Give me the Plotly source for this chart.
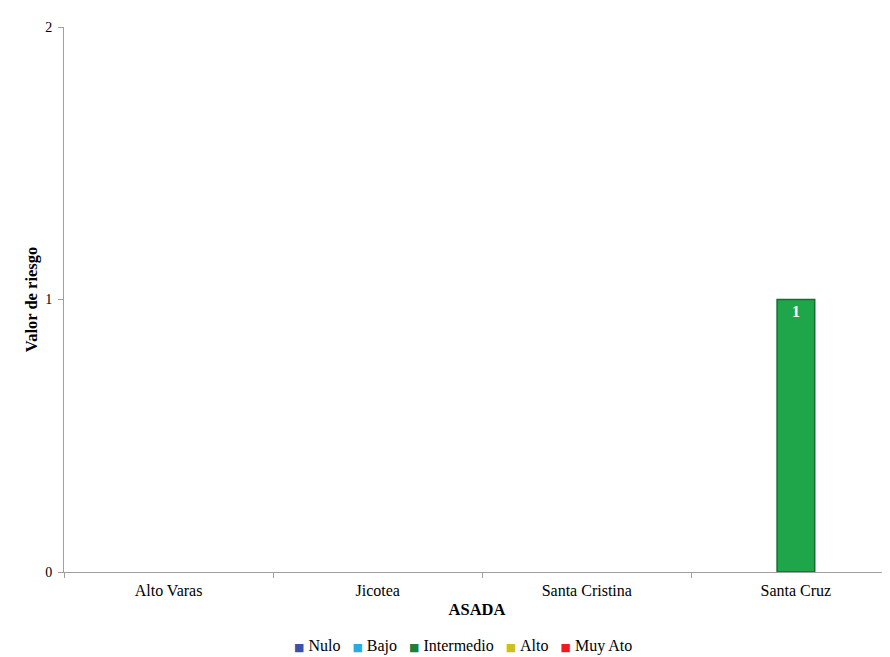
import plotly.graph_objects as go

categories = ["Alto Varas", "Jicotea", "Santa Cristina", "Santa Cruz"]
series_names = ["Nulo", "Bajo", "Intermedio", "Alto", "Muy Ato"]
nulo = [0, 0, 0, 0]
bajo = [0, 0, 0, 0]
intermedio = [0, 0, 0, 1]
alto = [0, 0, 0, 0]
muy_alto = [0, 0, 0, 0]
y_ticks = [0, 1, 2]

values = [nulo, bajo, intermedio, alto, muy_alto]
colors = ["#3a53a4", "#29abe2", "#1fa64a", "#d4cf1e", "#ed1c24"]
legend_colors = ["#3a53a4", "#29abe2", "#1e7f3a", "#c9c21c", "#ed1c24"]
lines = ["#2a3d7a", "#1d7ea8", "#166b32", "#8a8612", "#a81118"]

fig = go.Figure()
for name, vals, c, lc in zip(series_names, values, colors, lines):
    fig.add_trace(go.Bar(
        name=name, x=categories, y=[v if v else None for v in vals],
        marker=dict(color=c, line=dict(color=lc, width=1.5)),
        text=[str(v) if v else "" for v in vals],
        textposition="inside", insidetextanchor="end",
        textfont=dict(family="Liberation Serif", size=16, color="white"),
        texttemplate="<b>%{text}</b>",
        showlegend=False,
    ))

legend_text = "<span style='font-family:Liberation Serif'>&nbsp;&nbsp;&nbsp;</span>".join(
    f"<span style='color:{c};font-family:DejaVu Sans;font-size:11px'>■</span>"
    f"<span style='font-family:Liberation Serif'>&nbsp;{n}</span>"
    for n, c in zip(series_names, legend_colors)
)
fig.add_annotation(xref="paper", yref="paper", x=0.483, y=-0.135, xanchor="center", yanchor="middle",
                   text=legend_text, showarrow=False,
                   font=dict(family="Liberation Serif", size=16, color="black"))

fig.update_layout(
    width=882, height=649,
    barmode="group", bargap=0.1, bargroupgap=0,
    paper_bgcolor="white", plot_bgcolor="white",
    margin=dict(l=56, r=0, t=19, b=85, autoexpand=False),
    font=dict(family="Liberation Serif", size=14, color="black"),
    xaxis=dict(range=[-0.5, 3.45], showline=True, linecolor="#a0a0a0", linewidth=1,
               ticks="outside", tickson="boundaries", ticklen=5, tickcolor="#a0a0a0",
               showgrid=False, tickfont=dict(size=16), automargin=False, ticklabelstandoff=4,
               title=dict(text="<b>ASADA</b>", font=dict(size=16.5), standoff=5)),
    yaxis=dict(range=[0, 2], tickvals=y_ticks, showline=True, linecolor="#a0a0a0", linewidth=1,
               ticks="outside", ticklen=5, tickcolor="#a0a0a0", showgrid=False, zeroline=False,
               tickfont=dict(size=14), automargin=False, ticklabelstandoff=3,
               title=dict(text="<b>Valor de riesgo</b>", font=dict(size=16.5), standoff=3)),
)
fig.update_traces(cliponaxis=False)
fig.write_html("out.html")
